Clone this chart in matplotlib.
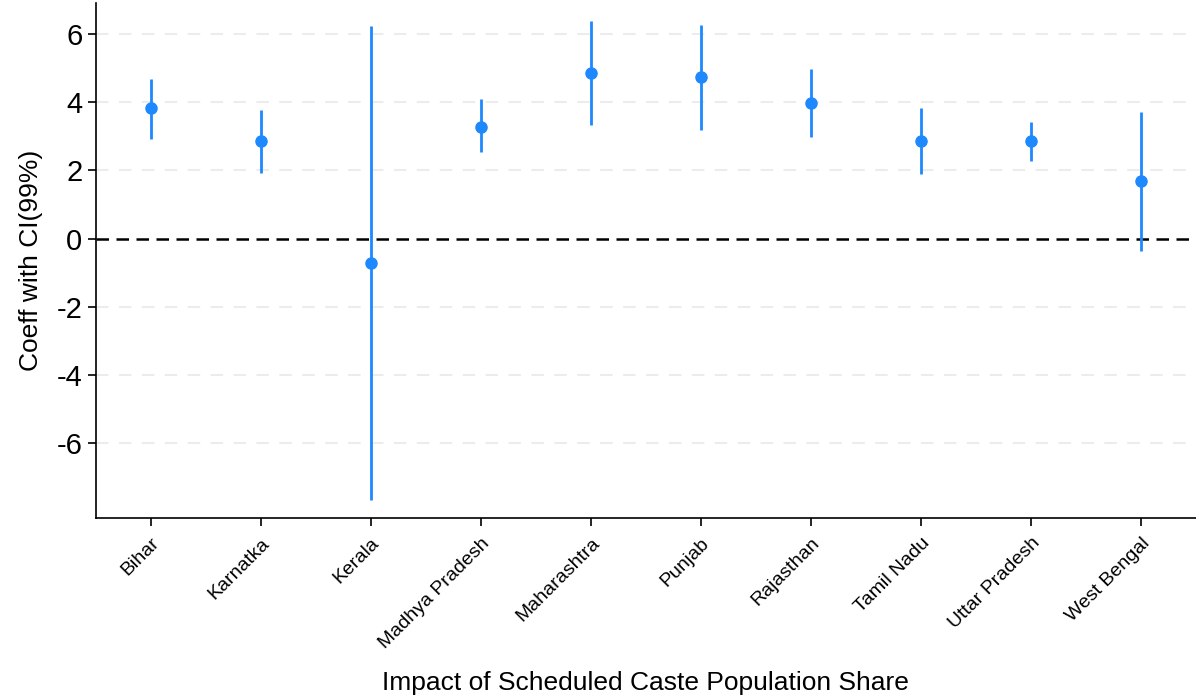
import matplotlib.pyplot as plt
import numpy as np

plt.rcParams['font.family'] = ['Liberation Sans', 'DejaVu Sans']
plt.rcParams['axes.unicode_minus'] = False

states = ['Bihar', 'Karnatka', 'Kerala', 'Madhya Pradesh', 'Maharashtra',
          'Punjab', 'Rajasthan', 'Tamil Nadu', 'Uttar Pradesh', 'West Bengal']
coef = [3.82, 2.85, -0.71, 3.29, 4.85, 4.74, 3.97, 2.85, 2.85, 1.68]
ci_low = [2.91, 1.94, -7.68, 2.53, 3.32, 3.18, 2.97, 1.91, 2.29, -0.35]
ci_high = [4.68, 3.76, 6.24, 4.09, 6.38, 6.26, 4.97, 3.82, 3.41, 3.71]

blue = '#1e88ff'
x = np.arange(1, len(states) + 1)

fig = plt.figure(figsize=(11.96, 7.0), dpi=100)
ax = fig.add_axes([0.08, 0.26, 0.92, 0.735])

for yv in [-6, -4, -2, 2, 4, 6]:
    ax.axhline(yv, color='#ececec', lw=1.5, ls=(0, (6, 5)), zorder=0)
ax.axhline(0, color='black', lw=1.8, ls=(0, (5, 3)), zorder=1)

ax.vlines(x, ci_low, ci_high, color=blue, lw=2, zorder=2)
ax.plot(x, coef, 'o', color=blue, ms=8, zorder=3)

ax.set_xlim(0.5, 10.5)
ax.set_ylim(-8.2, 6.9)
ax.set_yticks([-6, -4, -2, 0, 2, 4, 6])
ax.set_xticks(x)
ax.set_xticklabels(states, rotation=45, ha='right', rotation_mode='anchor', fontsize=14)
ax.tick_params(axis='y', labelsize=21, length=6, width=1.2)
ax.tick_params(axis='x', length=6, width=1.2, pad=6)

ax.spines['top'].set_visible(False)
ax.spines['right'].set_visible(False)
ax.spines['left'].set_linewidth(1.2)
ax.spines['bottom'].set_linewidth(1.2)

ax.set_ylabel('Coeff with CI(99%)', fontsize=19, labelpad=10)
ax.set_xlabel('Impact of Scheduled Caste Population Share', fontsize=19, labelpad=14)

fig.savefig('out.png', dpi=100)
